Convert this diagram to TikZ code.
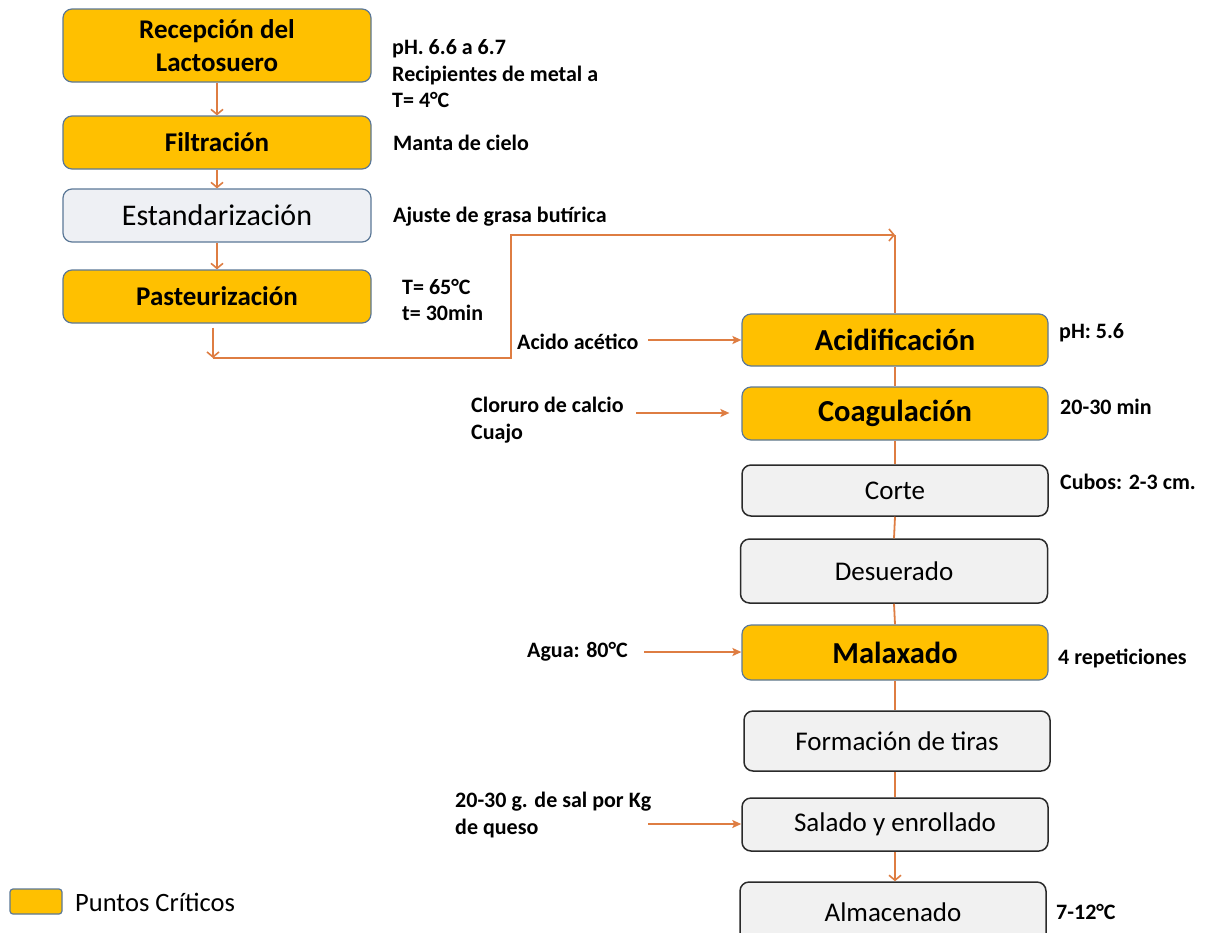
\documentclass[tikz,border=0pt]{standalone}
\usepackage{fontspec}
\setmainfont{Carlito}
\usetikzlibrary{arrows.meta}
\definecolor{critfill}{HTML}{FFC000}
\definecolor{critline}{HTML}{5B7897}
\definecolor{stepfill}{HTML}{F1F1F1}
\definecolor{stepline}{HTML}{2A2A2A}
\definecolor{stdfill}{HTML}{EEF0F4}
\definecolor{flowcol}{HTML}{DE7D42}
\tikzset{
  critbox/.style={draw=critline, line width=1.2pt, fill=critfill, rounded corners=9pt,
    align=center, inner sep=0pt, font=\fontsize{27}{33}\selectfont\bfseries},
  bigcrit/.style={critbox, font=\fontsize{30.5}{35}\selectfont\bfseries},
  plainbox/.style={draw=stepline, line width=1.5pt, fill=stepfill, rounded corners=9pt,
    align=center, inner sep=0pt, font=\fontsize{27}{32}\selectfont},
  stdbox/.style={plainbox, draw=critline, line width=1.2pt, fill=stdfill, font=\fontsize{30}{35}\selectfont},
  note/.style={anchor=west, align=left, inner sep=0pt, font=\fontsize{22}{26.5}\selectfont\bfseries},
  flow/.style={draw=flowcol, line width=1.8pt},
  downarrow/.style={flow, -{Straight Barb[length=5pt,width=12pt,line width=1.6pt]}},
  inarrow/.style={flow, -{Stealth[length=9pt,width=8pt,inset=2pt]}}
}
\begin{document}
\begin{tikzpicture}[x=1pt,y=-1pt]
\useasboundingbox (0,0) rectangle (1206,932);

% left column
\node[critbox, minimum width=308, minimum height=73] (rec) at (217,45.5) {Recepción del\\Lactosuero};
\node[critbox, minimum width=308, minimum height=53] (fil) at (217,142.5) {Filtración};
\node[stdbox, minimum width=308, minimum height=53] (std) at (217,215.5) {Estandarización};
\node[critbox, minimum width=308, minimum height=53] (pas) at (217,296.5) {Pasteurización};

\draw[downarrow] (rec.south) -- (fil.north);
\draw[downarrow] (fil.south) -- (std.north);
\draw[downarrow] (std.south) -- (pas.north);

% right column
\node[bigcrit, minimum width=306, minimum height=52] (acid) at (895,340) {Acidificación};
\node[bigcrit, minimum width=306, minimum height=53] (coag) at (895,413.5) {Coagulación};
\node[plainbox, minimum width=306, minimum height=51] (corte) at (895,490.5) {Corte};
\node[plainbox, minimum width=307, minimum height=64] (des) at (894,571) {Desuerado};
\node[bigcrit, minimum width=306, minimum height=55] (mal) at (895,652.5) {Malaxado};
\node[plainbox, minimum width=306, minimum height=60] (tiras) at (897,741) {Formación de tiras};
\node[plainbox, minimum width=306, minimum height=53] (sal) at (895,824.5) {Salado y enrollado};
\node[plainbox, minimum width=306, minimum height=60] (alm) at (893,912) {Almacenado};

% transfer from the pasteurizer to the acidification tank
\coordinate (drop) at (213,358);
\coordinate (rise) at (511,358);
\coordinate (top) at (511,235);
\coordinate (feed) at (895,235);
\draw[downarrow] ([yshift=-4pt]pas.south -| drop) -- (drop);
\draw[flow, -{Straight Barb[length=5pt,width=12pt,line width=1.6pt]}] (drop) -- (rise) -- (top) -- (feed);
\draw[flow] (feed) -- (acid.north);

\draw[flow] (acid.south) -- (coag.north);
\draw[flow] (coag.south) -- (corte.north);
\draw[flow] (corte.south) -- (des.north);
\draw[flow] (des.south) -- (mal.north);
\draw[flow] (mal.south) -- (mal.south |- tiras.north);
\draw[flow] (mal.south |- tiras.south) -- (mal.south |- sal.north);
\draw[downarrow] (sal.south) -- (sal.south |- alm.north);

% process conditions
\node[note] (n1) at (392,74) {pH. 6.6 a 6.7\\Recipientes de metal a\\T= 4°C};
\node[note] (n2) at (393,143) {Manta de cielo};
\node[note] (n3) at (393,217) {Ajuste de grasa butírica};
\node[note] (n4) at (402,300) {T= 65°C\\t= 30min};
\node[note] (n5) at (1059,333) {pH: 5.6};
\node[note] (n6) at (1060,407) {20-30 min};
\node[note] (n7) at (1060,482) {Cubos: 2-3 cm.};
\node[note] (n8) at (1058,658) {4 repeticiones};
\node[note] (n9) at (1056,912) {7-12°C};

% inputs
\node[note] (in1) at (517,342) {Acido acético};
\coordinate (in1s) at (648,340);
\draw[inarrow] (in1s) -- (acid.west |- in1s);

\node[note] (in2) at (471,420) {Cloruro de calcio\\Cuajo};
\coordinate (in2s) at (636,413);
\draw[inarrow] (in2s) -- ([xshift=-12pt]coag.west |- in2s);

\node[note] (in3) at (527,652) {Agua: 80°C};
\coordinate (in3s) at (644,652);
\draw[inarrow] (in3s) -- (mal.west |- in3s);

\node[note] (in4) at (455,815) {20-30 g. de sal por Kg\\de queso};
\coordinate (in4s) at (648,824);
\draw[inarrow] (in4s) -- (sal.west |- in4s);

% legend
\node[draw=critline, line width=1.2pt, fill=critfill, rounded corners=3pt,
  minimum width=52, minimum height=25, inner sep=0pt] (key) at (36,901.5) {};
\node[anchor=west, inner sep=0pt, font=\fontsize{26.5}{30}\selectfont] (keytext) at (75,902) {Puntos Críticos};
\end{tikzpicture}
\end{document}
